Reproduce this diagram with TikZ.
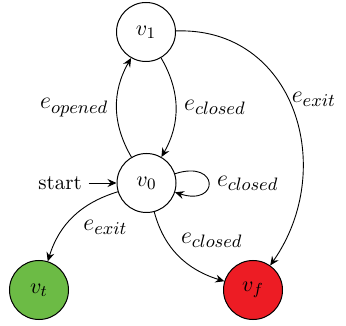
\documentclass[tikz,border=0pt]{standalone}
\usetikzlibrary{arrows.meta,positioning}
\definecolor{vgreen}{RGB}{108,187,69}
\definecolor{vred}{RGB}{237,28,36}
\begin{document}
\begin{tikzpicture}[x=0.5pt,y=0.5pt,
  state/.style={circle,draw,line width=0.5pt,minimum size=29.5pt,inner sep=0pt,font=\fontsize{11}{13}\selectfont},
  conn/.style={draw,line width=0.45pt,-{Stealth[length=4.5pt,width=4pt,inset=1.6pt]}},
  lbl/.style={inner sep=1pt,font=\fontsize{12.5}{15}\selectfont}]
\useasboundingbox (0,0) rectangle (346,325);
\node[state] (v1) at (146,293) {$v_1$};
\node[state] (v0) at (146.5,142) {$v_0$};
\node[state,fill=vgreen] (vt) at (39,35) {$v_t$};
\node[state,fill=vred] (vf) at (253,35) {$v_f$};
\node[font=\fontsize{10.5}{12}\selectfont] (start) at (60,142) {start};
\draw[conn] (start) -- (v0);
\draw[conn] (v0) to[bend left=30] node[lbl,left=3pt] {$e_{opened}$} (v1);
\draw[conn] (v1) to[bend left=30] node[lbl,right=3pt] {$e_{closed}$} (v0);
\draw[conn] (v0) to[out=18,in=-18,looseness=6.5] node[lbl,right=3pt] {$e_{closed}$} (v0);
\draw[conn] (v0) to[out=197,in=73] node[lbl,pos=0.45,below right=3pt] {$e_{exit}$} (vt);
\draw[conn] (v0) to[out=285,in=163] node[lbl,pos=0.45,above right=2pt] {$e_{closed}$} (vf);
\draw[conn] (v1) to[out=2,in=55,looseness=1.2] node[lbl,pos=0.46,right=0.5pt] {$e_{exit}$} (vf);
\end{tikzpicture}
\end{document}
